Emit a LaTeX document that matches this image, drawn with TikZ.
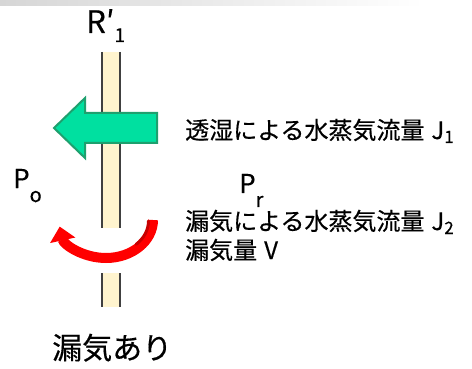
\documentclass[tikz,border=0pt]{standalone}
\usepackage{fontspec}
\setmainfont[FakeBold=0.4]{Noto Sans CJK JP}
\usetikzlibrary{arrows.meta}
\definecolor{wallfill}{RGB}{255,244,206}
\definecolor{wallline}{RGB}{64,64,64}
\definecolor{arrowgreen}{RGB}{0,224,160}
\definecolor{arrowgreenedge}{RGB}{30,160,110}
\definecolor{barleft}{RGB}{214,214,214}
\definecolor{darkred}{RGB}{200,0,0}
\tikzset{
  lbl/.style={inner sep=0pt, anchor=base west},
  wallseg/.style={fill=wallfill, draw=none},
  walledge/.style={draw=wallline, line width=1.5pt},
}
\newcommand{\fs}[1]{\fontsize{#1}{#1}\selectfont}
\begin{document}
\begin{tikzpicture}[x=1pt,y=-1pt]
\useasboundingbox (0,0) rectangle (472,369);
% top gradient bar
\shade[left color=barleft, right color=white] (0,0) rectangle (424,6);
% wall upper
\fill[wallseg] (102,52) rectangle (120,228);
\draw[walledge] (102,52) -- (102,228);
\draw[walledge] (120,52) -- (120,228);
% wall lower
\fill[wallseg] (102,273) rectangle (120,307);
\draw[walledge] (102,273) -- (102,307);
\draw[walledge] (120,273) -- (120,307);
% green arrow
\filldraw[fill=arrowgreen, draw=arrowgreenedge, line width=2pt, line join=miter]
  (54,128) -- (85,98) -- (85,113) -- (157,113) -- (157,143) -- (85,143) -- (85,158) -- cycle;
% red arrow
\draw[red, line width=10pt, -{Triangle[width=25pt,length=14pt]}]
  (153,220) arc[start angle=0, end angle=170, x radius=47, y radius=38];
\draw[darkred, line width=3pt, line cap=round]
  (148.5,221) arc[start angle=0, end angle=45, x radius=42, y radius=33];
% labels
\node[lbl] (R) at (86,33) {\fs{31}R′\raisebox{-9pt}{\fs{19}1}};
\node[lbl] (Po) at (13,188) {\fs{26}P\raisebox{-14pt}{\fs{20}o}};
\node[lbl] (Pr) at (239,193) {\fs{26}P\raisebox{-14pt}{\fs{20}r}};
\node[lbl] (t1) at (185,139) {\fs{24}透湿による水蒸気流量\hspace{7pt}J\raisebox{-4pt}{\fs{17}1}};
\node[lbl] (t2) at (185,230) {\fs{24}漏気による水蒸気流量\hspace{7pt}J\raisebox{-4pt}{\fs{17}2}};
\node[lbl] (t3) at (185,259) {\fs{24}漏気量\hspace{7pt}V};
\node[lbl] (t4) at (52,359) {\fs{30}漏気あり};
\end{tikzpicture}
\end{document}
